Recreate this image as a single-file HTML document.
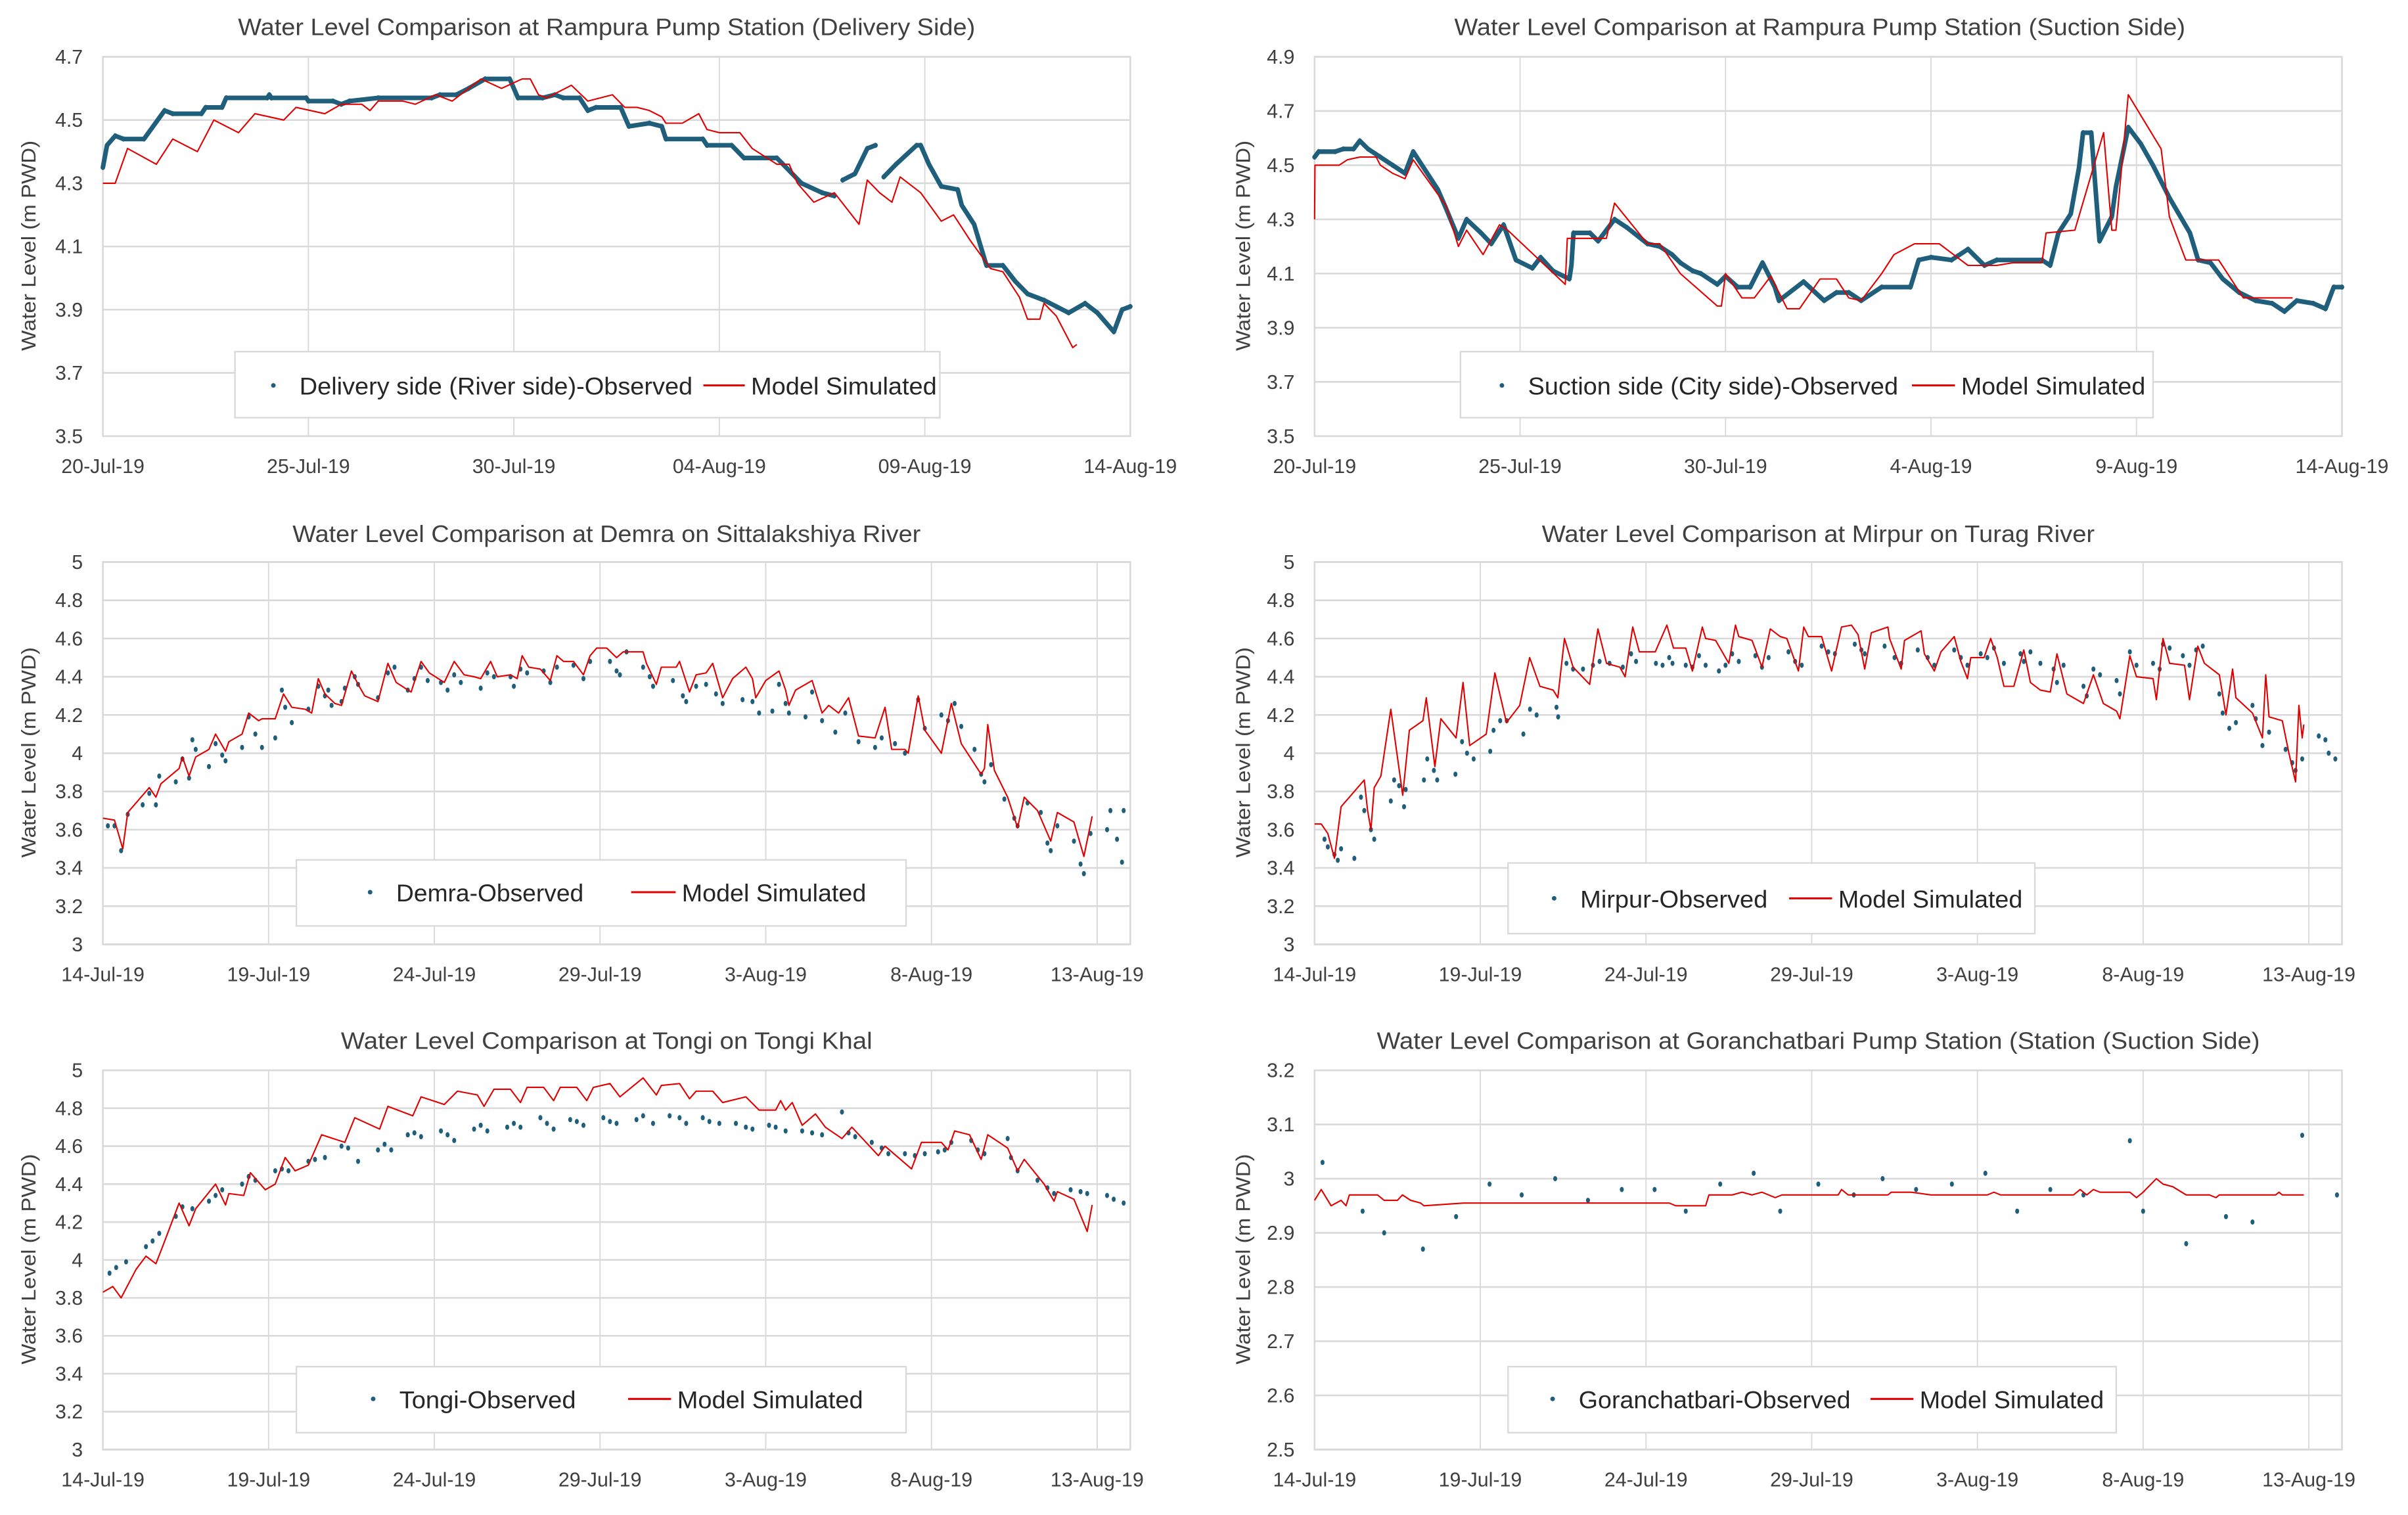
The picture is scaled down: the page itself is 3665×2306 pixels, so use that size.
<!DOCTYPE html>
<html><head><meta charset="utf-8"><style>
html,body{margin:0;padding:0;background:#fff;}
svg{display:block;font-family:"Liberation Sans",sans-serif;}
</style></head><body>
<svg id="root" xmlns="http://www.w3.org/2000/svg" width="3665" height="2306" viewBox="0 0 1568 986.6" preserveAspectRatio="none">
<rect x="0" y="0" width="1568" height="987" fill="#fff"/>
<g fill="#404040" font-size="15.5" text-anchor="middle">
<text x="395" y="23" textLength="480" lengthAdjust="spacingAndGlyphs">Water Level Comparison at Rampura Pump Station (Delivery Side)</text>
<text x="1185" y="23" textLength="476" lengthAdjust="spacingAndGlyphs">Water Level Comparison at Rampura Pump Station (Suction Side)</text>
<text x="395" y="353" textLength="409" lengthAdjust="spacingAndGlyphs">Water Level Comparison at Demra on Sittalakshiya River</text>
<text x="1184" y="353" textLength="360" lengthAdjust="spacingAndGlyphs">Water Level Comparison at Mirpur on Turag River</text>
<text x="395" y="683" textLength="346" lengthAdjust="spacingAndGlyphs">Water Level Comparison at Tongi on Tongi Khal</text>
<text x="1184" y="683" textLength="575" lengthAdjust="spacingAndGlyphs">Water Level Comparison at Goranchatbari Pump Station (Station (Suction Side)</text>
</g>
<g fill="#404040" font-size="13" text-anchor="middle">
<text transform="translate(23,160) rotate(-90)" textLength="137" lengthAdjust="spacingAndGlyphs">Water Level (m PWD)</text>
<text transform="translate(814,160) rotate(-90)" textLength="137" lengthAdjust="spacingAndGlyphs">Water Level (m PWD)</text>
<text transform="translate(23,490) rotate(-90)" textLength="137" lengthAdjust="spacingAndGlyphs">Water Level (m PWD)</text>
<text transform="translate(814,490) rotate(-90)" textLength="137" lengthAdjust="spacingAndGlyphs">Water Level (m PWD)</text>
<text transform="translate(23,820) rotate(-90)" textLength="137" lengthAdjust="spacingAndGlyphs">Water Level (m PWD)</text>
<text transform="translate(814,820) rotate(-90)" textLength="137" lengthAdjust="spacingAndGlyphs">Water Level (m PWD)</text>
</g>
<g id="charts"></g>
<g id="legends" font-size="16" fill="#262626">
<g>
<rect x="153" y="229" width="459" height="43" fill="#fff" stroke="#d9d9d9" stroke-width="1"/>
<circle cx="178" cy="251" r="1.5" fill="#1f5f7c"/>
<text x="195" y="257" textLength="256" lengthAdjust="spacingAndGlyphs">Delivery side (River side)-Observed</text>
<line x1="458" y1="251" x2="485" y2="251" stroke="#e00000" stroke-width="1.3"/>
<text x="489" y="257" textLength="121" lengthAdjust="spacingAndGlyphs">Model Simulated</text>
</g>
<g>
<rect x="951" y="229" width="451" height="43" fill="#fff" stroke="#d9d9d9" stroke-width="1"/>
<circle cx="978" cy="251" r="1.5" fill="#1f5f7c"/>
<text x="995" y="257" textLength="241" lengthAdjust="spacingAndGlyphs">Suction side (City side)-Observed</text>
<line x1="1245" y1="251" x2="1273" y2="251" stroke="#e00000" stroke-width="1.3"/>
<text x="1277" y="257" textLength="120" lengthAdjust="spacingAndGlyphs">Model Simulated</text>
</g>
<g>
<rect x="193" y="560" width="397" height="43" fill="#fff" stroke="#d9d9d9" stroke-width="1"/>
<circle cx="241" cy="581" r="1.5" fill="#1f5f7c"/>
<text x="258" y="587" textLength="122" lengthAdjust="spacingAndGlyphs">Demra-Observed</text>
<line x1="411" y1="581" x2="440" y2="581" stroke="#e00000" stroke-width="1.3"/>
<text x="444" y="587" textLength="120" lengthAdjust="spacingAndGlyphs">Model Simulated</text>
</g>
<g>
<rect x="982" y="562" width="343" height="46" fill="#fff" stroke="#d9d9d9" stroke-width="1"/>
<circle cx="1012" cy="585" r="1.5" fill="#1f5f7c"/>
<text x="1029" y="591" textLength="122" lengthAdjust="spacingAndGlyphs">Mirpur-Observed</text>
<line x1="1165" y1="585" x2="1193" y2="585" stroke="#e00000" stroke-width="1.3"/>
<text x="1197" y="591" textLength="120" lengthAdjust="spacingAndGlyphs">Model Simulated</text>
</g>
<g>
<rect x="193" y="890" width="397" height="43" fill="#fff" stroke="#d9d9d9" stroke-width="1"/>
<circle cx="243" cy="911" r="1.5" fill="#1f5f7c"/>
<text x="260" y="917" textLength="115" lengthAdjust="spacingAndGlyphs">Tongi-Observed</text>
<line x1="409" y1="911" x2="437" y2="911" stroke="#e00000" stroke-width="1.3"/>
<text x="441" y="917" textLength="121" lengthAdjust="spacingAndGlyphs">Model Simulated</text>
</g>
<g>
<rect x="982" y="890" width="396" height="43" fill="#fff" stroke="#d9d9d9" stroke-width="1"/>
<circle cx="1011" cy="911" r="1.5" fill="#1f5f7c"/>
<text x="1028" y="917" textLength="177" lengthAdjust="spacingAndGlyphs">Goranchatbari-Observed</text>
<line x1="1218" y1="911" x2="1246" y2="911" stroke="#e00000" stroke-width="1.3"/>
<text x="1250" y="917" textLength="120" lengthAdjust="spacingAndGlyphs">Model Simulated</text>
</g>
</g>
</svg>
<script>
// ---------- data (day offset from axis start, water level m PWD) ----------
const dates1Labels = ["20-Jul-19","25-Jul-19","30-Jul-19","04-Aug-19","09-Aug-19","14-Aug-19"];
const dates2Labels = ["20-Jul-19","25-Jul-19","30-Jul-19","4-Aug-19","9-Aug-19","14-Aug-19"];
const datesJulLabels = ["14-Jul-19","19-Jul-19","24-Jul-19","29-Jul-19","3-Aug-19","8-Aug-19","13-Aug-19"];
const yTicks1 = [3.5,3.7,3.9,4.1,4.3,4.5,4.7];
const yTicks2 = [3.5,3.7,3.9,4.1,4.3,4.5,4.7,4.9];
const yTicks3 = [3,3.2,3.4,3.6,3.8,4,4.2,4.4,4.6,4.8,5];
const yTicks6 = [2.5,2.6,2.7,2.8,2.9,3,3.1,3.2];

const c1ObsDay = [0,0.1,0.3,0.5,1.0,1.5,1.7,2.4,2.5,2.9,3.0,4.0,4.05,4.1,4.95,5.0,5.6,5.8,6.0,6.7,8.0,8.2,8.6,8.9,9.3,9.9,10.1,10.7,11.0,11.2,11.6,11.8,12.0,12.6,12.8,13.3,13.6,13.7,14.6,14.7,15.3,15.6,16.4,16.7,17.0,17.5,17.8,17.9,18.0,18.3,18.6,18.8,18.9,19.0,19.3,19.8,19.9,20.1,20.4,20.8,20.9,21.2,21.5,21.9,22.2,22.5,22.9,23.2,23.5,23.9,24.2,24.6,24.8,25];
const c1ObsVal = [4.35,4.42,4.45,4.44,4.44,4.53,4.52,4.52,4.54,4.54,4.57,4.57,4.58,4.57,4.57,4.56,4.56,4.55,4.56,4.57,4.57,4.58,4.58,4.60,4.63,4.63,4.57,4.57,4.58,4.57,4.57,4.53,4.54,4.54,4.48,4.49,4.48,4.44,4.44,4.42,4.42,4.38,4.38,4.34,4.30,4.27,4.26,null,4.31,4.33,4.41,4.42,null,4.32,4.36,4.42,4.42,4.36,4.29,4.28,4.23,4.17,4.04,4.04,3.99,3.95,3.93,3.91,3.89,3.92,3.89,3.83,3.90,3.91];
const c1SimDay = [0,0.3,0.6,1.3,1.7,2.3,2.7,3.3,3.7,4.4,4.7,5.4,5.8,6.3,6.5,6.7,7.3,7.6,8.1,8.5,9.2,9.7,10.2,10.4,10.6,10.8,11.4,11.8,12.4,12.7,13.0,13.3,13.6,13.7,14.1,14.5,14.7,15.0,15.5,15.8,16.4,16.7,16.9,17.3,17.8,18.4,18.6,18.9,19.2,19.4,19.9,20.4,20.7,21.1,21.6,21.9,22.3,22.5,22.8,22.9,23.2,23.6,23.7];
const c1SimVal = [4.30,4.30,4.41,4.36,4.44,4.40,4.50,4.46,4.52,4.50,4.54,4.52,4.55,4.55,4.53,4.56,4.56,4.55,4.58,4.56,4.63,4.60,4.63,4.63,4.58,4.57,4.61,4.56,4.58,4.54,4.54,4.53,4.51,4.49,4.49,4.52,4.47,4.46,4.46,4.41,4.36,4.36,4.30,4.24,4.27,4.17,4.31,4.27,4.24,4.32,4.27,4.18,4.20,4.12,4.03,4.02,3.94,3.87,3.87,3.92,3.88,3.78,3.79];

const c2ObsDay = [0,0.1,0.5,0.7,0.95,1.1,1.3,1.6,1.9,2.2,2.4,2.7,3.0,3.2,3.5,3.7,4.05,4.3,4.6,4.9,5.3,5.5,5.8,6.2,6.25,6.3,6.7,6.9,7.3,7.6,8.1,8.4,8.7,8.9,9.2,9.4,9.8,10,10.3,10.6,10.9,11.2,11.3,11.9,12.4,12.7,13,13.3,13.8,14.5,14.7,15,15.5,15.9,16.3,16.6,17.7,17.9,18.1,18.4,18.6,18.7,18.9,19.1,19.4,19.5,19.8,20.1,20.4,20.8,21.3,21.5,21.8,22.1,22.5,22.9,23.3,23.6,23.9,24.3,24.6,24.8,25];
const c2ObsVal = [4.53,4.55,4.55,4.56,4.56,4.59,4.56,4.53,4.50,4.47,4.55,4.48,4.41,4.34,4.23,4.30,4.25,4.21,4.28,4.15,4.12,4.16,4.11,4.08,4.13,4.25,4.25,4.22,4.30,4.27,4.21,4.20,4.17,4.14,4.11,4.10,4.06,4.09,4.05,4.05,4.14,4.05,4.00,4.07,4.00,4.03,4.03,4.00,4.05,4.05,4.15,4.16,4.15,4.19,4.13,4.15,4.15,4.13,4.25,4.32,4.49,4.62,4.62,4.22,4.31,4.42,4.64,4.58,4.50,4.38,4.25,4.15,4.14,4.08,4.03,4.00,3.99,3.96,4.00,3.99,3.97,4.05,4.05];
const c2SimDay = [0,0.01,0.6,0.8,1.1,1.5,1.6,1.9,2.2,2.4,3.2,3.5,3.7,4.1,4.5,4.7,6.1,6.15,7.1,7.3,8.1,8.4,8.9,9.8,9.9,10,10.4,10.7,11.1,11.5,11.8,12.3,12.7,13,13.3,13.8,14.1,14.6,15.2,15.9,16.6,17,17.7,17.8,18.5,19.2,19.4,19.5,19.8,20.6,20.8,21.2,22,22.6,23.8];
const c2SimVal = [4.30,4.50,4.50,4.52,4.53,4.53,4.50,4.47,4.45,4.52,4.35,4.20,4.26,4.17,4.28,4.26,4.06,4.23,4.23,4.36,4.21,4.21,4.10,3.98,3.98,4.10,4.01,4.01,4.09,3.97,3.97,4.08,4.08,4.01,4.00,4.10,4.17,4.21,4.21,4.13,4.13,4.14,4.14,4.25,4.26,4.62,4.26,4.26,4.76,4.56,4.31,4.15,4.15,4.01,4.01];

const c3SimDay = [0,0.35,0.6,0.75,1.4,1.6,1.75,2.3,2.4,2.6,2.8,3.2,3.4,3.7,3.8,4.2,4.4,4.7,4.8,5.2,5.45,5.7,6.1,6.3,6.5,6.7,7.0,7.2,7.5,7.7,7.9,8.3,8.6,8.85,9.3,9.6,9.85,10.3,10.6,10.9,11.2,11.4,11.7,11.9,12.3,12.5,12.65,12.85,13.2,13.5,13.7,13.9,14.2,14.5,14.7,14.9,15.2,15.5,15.7,16.3,16.4,16.7,16.85,17.3,17.4,17.7,17.9,18.2,18.4,18.7,19.0,19.4,19.6,19.7,20.0,20.4,20.6,20.7,20.9,21.4,21.7,21.9,22.2,22.5,22.8,23.3,23.6,23.8,24.2,24.3,24.6,24.8,25.3,25.6,25.9,26.5,26.6,26.7,26.9,27.3,27.6,27.8,28.2,28.6,28.8,29.3,29.6,29.85];
const c3SimVal = [3.66,3.65,3.50,3.69,3.82,3.77,3.84,3.92,3.98,3.88,3.98,4.02,4.10,4.01,4.06,4.10,4.21,4.17,4.18,4.18,4.31,4.24,4.23,4.21,4.39,4.31,4.26,4.25,4.43,4.36,4.30,4.27,4.47,4.37,4.32,4.48,4.42,4.37,4.48,4.41,4.40,4.39,4.48,4.40,4.41,4.39,4.51,4.45,4.44,4.38,4.51,4.48,4.48,4.41,4.51,4.55,4.55,4.50,4.53,4.53,4.47,4.36,4.45,4.45,4.48,4.32,4.41,4.42,4.47,4.29,4.39,4.45,4.39,4.29,4.38,4.43,4.33,4.25,4.33,4.38,4.21,4.25,4.21,4.29,4.09,4.08,4.24,4.02,4.02,4.00,4.30,4.12,4.00,4.26,4.05,3.89,3.92,4.15,3.91,3.77,3.61,3.77,3.70,3.54,3.69,3.64,3.46,3.67];
const c3ObsDay = [0.15,0.35,0.55,0.75,1.2,1.4,1.6,1.7,2.2,2.4,2.6,2.7,2.8,3.2,3.4,3.6,3.7,4.2,4.4,4.6,4.8,5.2,5.4,5.5,5.7,6.2,6.5,6.7,6.8,6.9,7.2,7.3,7.6,7.7,8.3,8.6,8.8,9.2,9.4,9.6,9.8,10.2,10.4,10.6,10.8,11.4,11.6,11.8,12.3,12.4,12.6,12.8,13.3,13.5,13.7,14.2,14.5,14.7,15.3,15.5,15.6,15.8,16.3,16.5,16.6,17.2,17.5,17.6,17.9,18.2,18.5,18.7,19.3,19.6,19.8,20.2,20.4,20.6,20.7,21.2,21.4,21.7,22.1,22.4,22.8,23.3,23.5,23.9,24.2,24.6,24.8,25.3,25.5,25.7,25.9,26.3,26.5,26.6,26.8,27.2,27.5,27.6,27.9,28.3,28.5,28.6,28.8,29.3,29.5,29.6,29.8,30.3,30.4,30.6,30.75,30.8];
const c3ObsVal = [3.62,3.62,3.49,3.68,3.73,3.79,3.73,3.88,3.85,3.97,3.87,4.07,4.02,3.93,4.05,3.99,3.96,4.03,4.19,4.10,4.03,4.08,4.33,4.24,4.16,4.23,4.35,4.30,4.33,4.25,4.27,4.34,4.40,4.36,4.29,4.42,4.45,4.33,4.39,4.45,4.38,4.37,4.33,4.41,4.37,4.34,4.42,4.40,4.40,4.35,4.44,4.42,4.43,4.37,4.45,4.46,4.39,4.48,4.48,4.43,4.41,4.53,4.45,4.40,4.35,4.38,4.30,4.27,4.35,4.36,4.31,4.26,4.28,4.27,4.21,4.22,4.36,4.26,4.21,4.19,4.32,4.17,4.11,4.21,4.06,4.03,4.08,4.05,4.00,4.28,4.13,4.20,4.17,4.26,4.14,4.02,3.89,3.85,3.94,3.76,3.66,3.62,3.74,3.69,3.53,3.49,3.62,3.54,3.42,3.37,3.58,3.60,3.70,3.55,3.43,3.70];

const c4SimDay = [0,0.2,0.4,0.6,0.8,1.2,1.3,1.5,1.6,1.7,1.8,2.0,2.3,2.66,2.86,3.27,3.37,3.63,3.81,4.27,4.48,4.68,5.18,5.44,5.79,6.19,6.49,6.8,7.2,7.34,7.54,7.8,8.3,8.55,8.81,9.21,9.37,9.6,9.8,10.28,10.63,10.83,11.2,11.4,11.7,11.8,12.1,12.5,12.7,12.8,13.2,13.5,13.75,14.05,14.25,14.6,14.76,14.9,15.3,15.6,15.9,16.2,16.4,16.6,16.8,17.3,17.35,17.7,17.8,18.3,18.4,18.7,18.9,19.3,19.5,19.7,19.8,20.2,20.4,20.6,20.8,21.1,21.4,21.6,21.9,22.2,22.4,22.7,23.2,23.5,23.8,24.2,24.3,24.6,24.8,25.3,25.4,25.6,25.8,26.25,26.4,26.65,26.85,27.3,27.5,27.7,27.8,28.3,28.6,28.7,28.8,29.2,29.4,29.6,29.7,29.8,29.85];
const c4SimVal = [3.63,3.63,3.58,3.45,3.72,3.80,3.82,3.86,3.70,3.60,3.82,3.88,4.23,3.78,4.12,4.17,4.29,3.93,4.18,4.08,4.37,4.04,4.10,4.42,4.16,4.25,4.50,4.35,4.33,4.29,4.60,4.45,4.36,4.65,4.47,4.45,4.40,4.66,4.53,4.53,4.67,4.55,4.55,4.43,4.66,4.60,4.59,4.47,4.67,4.61,4.59,4.45,4.65,4.61,4.60,4.43,4.66,4.61,4.61,4.43,4.66,4.67,4.62,4.44,4.63,4.66,4.60,4.44,4.59,4.64,4.52,4.43,4.53,4.61,4.48,4.39,4.50,4.50,4.60,4.50,4.35,4.35,4.54,4.37,4.33,4.32,4.52,4.31,4.26,4.41,4.26,4.22,4.18,4.51,4.40,4.39,4.28,4.60,4.47,4.46,4.28,4.56,4.47,4.41,4.20,4.44,4.29,4.21,4.08,4.41,4.19,4.17,4.00,3.85,4.25,4.08,4.15];
const c4ObsDay = [0.3,0.4,0.6,0.7,0.8,1.2,1.4,1.5,1.7,1.8,2.3,2.4,2.55,2.7,2.75,3.3,3.4,3.6,3.7,4.25,4.45,4.6,4.8,5.3,5.4,5.6,5.8,6.3,6.5,6.7,7.3,7.35,7.6,7.8,8.1,8.4,8.6,8.9,9.3,9.55,9.7,10.3,10.5,10.7,10.8,11.2,11.4,11.6,11.8,12.2,12.4,12.6,12.8,13.3,13.5,13.7,14.3,14.5,14.7,15.3,15.5,15.7,16.3,16.5,16.6,17.2,17.5,17.7,18.2,18.5,18.7,19.3,19.5,19.7,20.1,20.3,20.5,20.8,21.3,21.4,21.6,21.9,22.3,22.4,22.6,23.2,23.3,23.5,23.7,24.2,24.3,24.6,24.8,25.3,25.5,25.6,25.8,26.2,26.4,26.6,26.8,27.3,27.4,27.6,27.8,28.3,28.4,28.6,28.8,29.3,29.5,29.6,29.8,30.3,30.5,30.6,30.8];
const c4ObsVal = [3.55,3.51,3.47,3.44,3.50,3.45,3.77,3.70,3.60,3.55,3.75,3.86,3.83,3.72,3.81,3.86,3.97,3.91,3.86,3.89,4.06,4.00,3.97,4.01,4.12,4.17,4.17,4.10,4.23,4.20,4.24,4.19,4.47,4.44,4.44,4.46,4.48,4.47,4.45,4.52,4.48,4.47,4.46,4.50,4.47,4.46,4.45,4.51,4.46,4.43,4.46,4.52,4.48,4.51,4.45,4.50,4.53,4.48,4.46,4.56,4.53,4.52,4.57,4.54,4.52,4.56,4.50,4.47,4.54,4.50,4.46,4.54,4.50,4.46,4.52,4.50,4.55,4.47,4.52,4.48,4.53,4.47,4.44,4.37,4.46,4.35,4.30,4.44,4.41,4.38,4.31,4.53,4.46,4.47,4.44,4.57,4.55,4.51,4.46,4.54,4.56,4.31,4.21,4.13,4.16,4.25,4.18,4.04,4.11,4.02,3.95,3.91,3.97,4.09,4.07,4.00,3.97];

const c5SimDay = [0,0.3,0.55,1.0,1.3,1.6,1.8,2.3,2.6,2.8,3.4,3.7,3.8,4.25,4.45,4.9,5.2,5.5,5.8,6.2,6.6,7.3,7.6,8.35,8.6,9.35,9.6,10.3,10.7,11.3,11.5,11.8,12.3,12.6,12.8,13.3,13.6,13.8,14.3,14.6,14.8,15.3,15.6,16.3,16.7,16.85,17.4,17.7,17.9,18.4,18.7,19.4,19.8,20.3,20.45,20.6,20.8,21.1,21.5,21.8,22.3,22.6,23.4,23.6,24.4,24.7,25.3,25.5,25.7,26.15,26.5,26.7,27.3,27.6,27.8,28.4,28.7,28.8,29.3,29.7,29.85];
const c5SimVal = [3.83,3.86,3.80,3.95,4.02,3.98,4.07,4.30,4.18,4.27,4.40,4.29,4.35,4.34,4.46,4.37,4.40,4.54,4.47,4.50,4.66,4.62,4.75,4.69,4.81,4.76,4.86,4.82,4.89,4.87,4.81,4.90,4.90,4.83,4.91,4.91,4.84,4.91,4.91,4.84,4.91,4.93,4.86,4.96,4.87,4.92,4.93,4.85,4.89,4.89,4.83,4.86,4.79,4.79,4.84,4.79,4.83,4.71,4.77,4.70,4.64,4.70,4.55,4.60,4.48,4.62,4.62,4.58,4.68,4.66,4.53,4.66,4.59,4.47,4.53,4.40,4.31,4.36,4.32,4.15,4.29];
const c5ObsDay = [0.2,0.4,0.7,1.3,1.5,1.7,2.2,2.4,2.7,3.2,3.4,3.6,4.2,4.4,4.6,5.2,5.4,5.6,6.2,6.4,6.7,7.2,7.4,7.7,8.3,8.5,8.7,9.2,9.4,9.6,10.2,10.4,10.6,11.2,11.4,11.6,12.2,12.4,12.6,13.2,13.4,13.6,14.1,14.3,14.5,15.1,15.3,15.5,16.1,16.3,16.6,17.1,17.4,17.6,18.1,18.3,18.6,19.1,19.4,19.6,20.1,20.3,20.6,21.1,21.4,21.7,22.3,22.5,22.7,23.2,23.5,23.7,24.2,24.5,24.8,25.2,25.4,25.6,26.2,26.4,26.6,27.3,27.4,27.6,28.2,28.5,28.7,29.2,29.5,29.7,30.3,30.5,30.8];
const c5ObsVal = [3.93,3.96,3.99,4.07,4.10,4.14,4.23,4.28,4.27,4.31,4.34,4.37,4.40,4.44,4.42,4.47,4.48,4.47,4.52,4.53,4.54,4.60,4.59,4.52,4.58,4.61,4.58,4.66,4.67,4.65,4.68,4.66,4.63,4.69,4.71,4.68,4.70,4.72,4.70,4.75,4.72,4.69,4.74,4.73,4.71,4.75,4.73,4.72,4.74,4.76,4.72,4.76,4.75,4.72,4.75,4.73,4.72,4.72,4.70,4.69,4.71,4.70,4.68,4.68,4.67,4.66,4.78,4.67,4.65,4.62,4.59,4.56,4.56,4.55,4.56,4.57,4.58,4.62,4.63,4.58,4.56,4.64,4.54,4.47,4.42,4.38,4.35,4.37,4.36,4.35,4.34,4.32,4.30];

const c6SimDay = [0,0.2,0.4,0.5,0.8,0.95,1.05,1.5,1.9,2.1,2.5,2.65,2.9,3.2,3.3,4.5,10.7,10.9,11.8,11.9,12.6,12.9,13.2,13.5,13.9,14.1,15.8,15.9,16.1,17.3,17.4,18.0,18.6,20.3,20.5,20.7,22.9,23.1,23.3,23.5,23.7,24.6,24.8,25.0,25.4,25.6,25.9,26.3,27.0,27.2,27.3,29.0,29.1,29.2,29.85];
const c6SimVal = [2.96,2.98,2.96,2.95,2.96,2.95,2.97,2.97,2.97,2.96,2.96,2.97,2.96,2.955,2.95,2.955,2.955,2.95,2.95,2.97,2.97,2.975,2.97,2.975,2.965,2.97,2.97,2.98,2.97,2.97,2.975,2.975,2.97,2.97,2.975,2.97,2.97,2.98,2.97,2.98,2.975,2.975,2.965,2.975,3.00,2.99,2.985,2.97,2.97,2.965,2.97,2.97,2.975,2.97,2.97];
const c6ObsDay = [0.24,1.45,2.1,3.27,4.27,5.28,6.25,7.26,8.25,9.27,10.26,11.2,12.24,13.25,14.05,15.2,16.27,17.14,18.15,19.23,20.24,21.2,22.2,23.2,24.6,25.0,26.3,27.5,28.3,29.8,30.85];
const c6ObsVal = [3.03,2.94,2.90,2.87,2.93,2.99,2.97,3.00,2.96,2.98,2.98,2.94,2.99,3.01,2.94,2.99,2.97,3.00,2.98,2.99,3.01,2.94,2.98,2.97,3.07,2.94,2.88,2.93,2.92,3.08,2.97];

// ---------- rendering ----------
const NS = 'http://www.w3.org/2000/svg';
const host = document.getElementById('charts');
function mk(tag, attrs, parent){
  const e = document.createElementNS(NS, tag);
  for (const k in attrs) e.setAttribute(k, attrs[k]);
  parent.appendChild(e);
  return e;
}
const OBS = '#1f5f7c', SIM = '#e00000', GRID = '#d9d9d9', TXT = '#404040';

function drawChart(id, box, nDays, yMin, yMax, yTicks, xLabels, obsDay, obsVal, simDay, simVal, dense){
  const g = mk('g', {}, host);
  
  
  const xs = d => box.x0 + d * (box.x1 - box.x0) / nDays;
  const ys = v => box.y1 - (v - yMin) * (box.y1 - box.y0) / (yMax - yMin);
  yTicks.forEach(t => {
    const gl = mk('line', {x1: box.x0, x2: box.x1, y1: ys(t), y2: ys(t), stroke: GRID, 'stroke-width': 1.1}, g);
    
    
    const tl = mk('text', {x: box.x0 - 13, y: ys(t) + 4.5, 'text-anchor': 'end', 'font-size': 13, fill: TXT}, g);
    tl.textContent = String(t);
    
    
  });
  xLabels.forEach((lab, i) => {
    const x = xs(i * 5);
    const gl = mk('line', {x1: x, x2: x, y1: box.y0, y2: box.y1, stroke: GRID, 'stroke-width': 0.8}, g);
    
    
    const tl = mk('text', {x: x, y: box.y1 + 24, 'text-anchor': 'middle', 'font-size': 13, fill: TXT}, g);
    tl.textContent = lab;
    
    
  });
  const frame = mk('rect', {x: box.x0, y: box.y0, width: box.x1 - box.x0, height: box.y1 - box.y0, fill: 'none', stroke: GRID, 'stroke-width': 1.1}, g);
  
  

  // observed
  const n = Math.min(obsDay.length, obsVal.length);
  if (dense){
    let d = '', pen = false;
    for (let i = 0; i < n; i++){
      if (obsVal[i] === null){ pen = false; continue; }
      d += (pen ? 'L' : 'M') + xs(obsDay[i]).toFixed(2) + ' ' + ys(obsVal[i]).toFixed(2);
      pen = true;
    }
    const p = mk('path', {d: d, fill: 'none', stroke: OBS, 'stroke-width': 3, 'stroke-linejoin': 'round', 'stroke-linecap': 'round'}, g);
    
    
  }
  for (let i = 0; i < n; i++){
    if (obsVal[i] === null) continue;
    const c = mk('ellipse', {cx: xs(obsDay[i]), cy: ys(obsVal[i]), rx: 1.3, ry: 1.7, fill: OBS}, g);
    
    
  }
  // simulated
  const m = Math.min(simDay.length, simVal.length);
  let pts = [];
  for (let i = 0; i < m; i++) pts.push(xs(simDay[i]).toFixed(2) + ',' + ys(simVal[i]).toFixed(2));
  const pl = mk('polyline', {points: pts.join(' '), fill: 'none', stroke: SIM, 'stroke-width': 0.9, 'stroke-linejoin': 'round'}, g);
  
  
}

drawChart('rampura-delivery-chart', {x0:67,x1:736,y0:37,y1:284}, 25, 3.5, 4.7, yTicks1, dates1Labels, c1ObsDay, c1ObsVal, c1SimDay, c1SimVal, true);
drawChart('rampura-suction-chart', {x0:856,x1:1525,y0:37,y1:284}, 25, 3.5, 4.9, yTicks2, dates2Labels, c2ObsDay, c2ObsVal, c2SimDay, c2SimVal, true);
drawChart('demra-chart', {x0:67,x1:736,y0:366,y1:615}, 31, 3, 5, yTicks3, datesJulLabels, c3ObsDay, c3ObsVal, c3SimDay, c3SimVal, false);
drawChart('mirpur-chart', {x0:856,x1:1525,y0:366,y1:615}, 31, 3, 5, yTicks3, datesJulLabels, c4ObsDay, c4ObsVal, c4SimDay, c4SimVal, false);
drawChart('tongi-chart', {x0:67,x1:736,y0:697,y1:944}, 31, 3, 5, yTicks3, datesJulLabels, c5ObsDay, c5ObsVal, c5SimDay, c5SimVal, false);
drawChart('goranchatbari-chart', {x0:856,x1:1525,y0:697,y1:944}, 31, 2.5, 3.2, yTicks6, datesJulLabels, c6ObsDay, c6ObsVal, c6SimDay, c6SimVal, false);

// legends drawn above the plot
document.getElementById('root').appendChild(document.getElementById('legends'));
</script>
</body></html>
